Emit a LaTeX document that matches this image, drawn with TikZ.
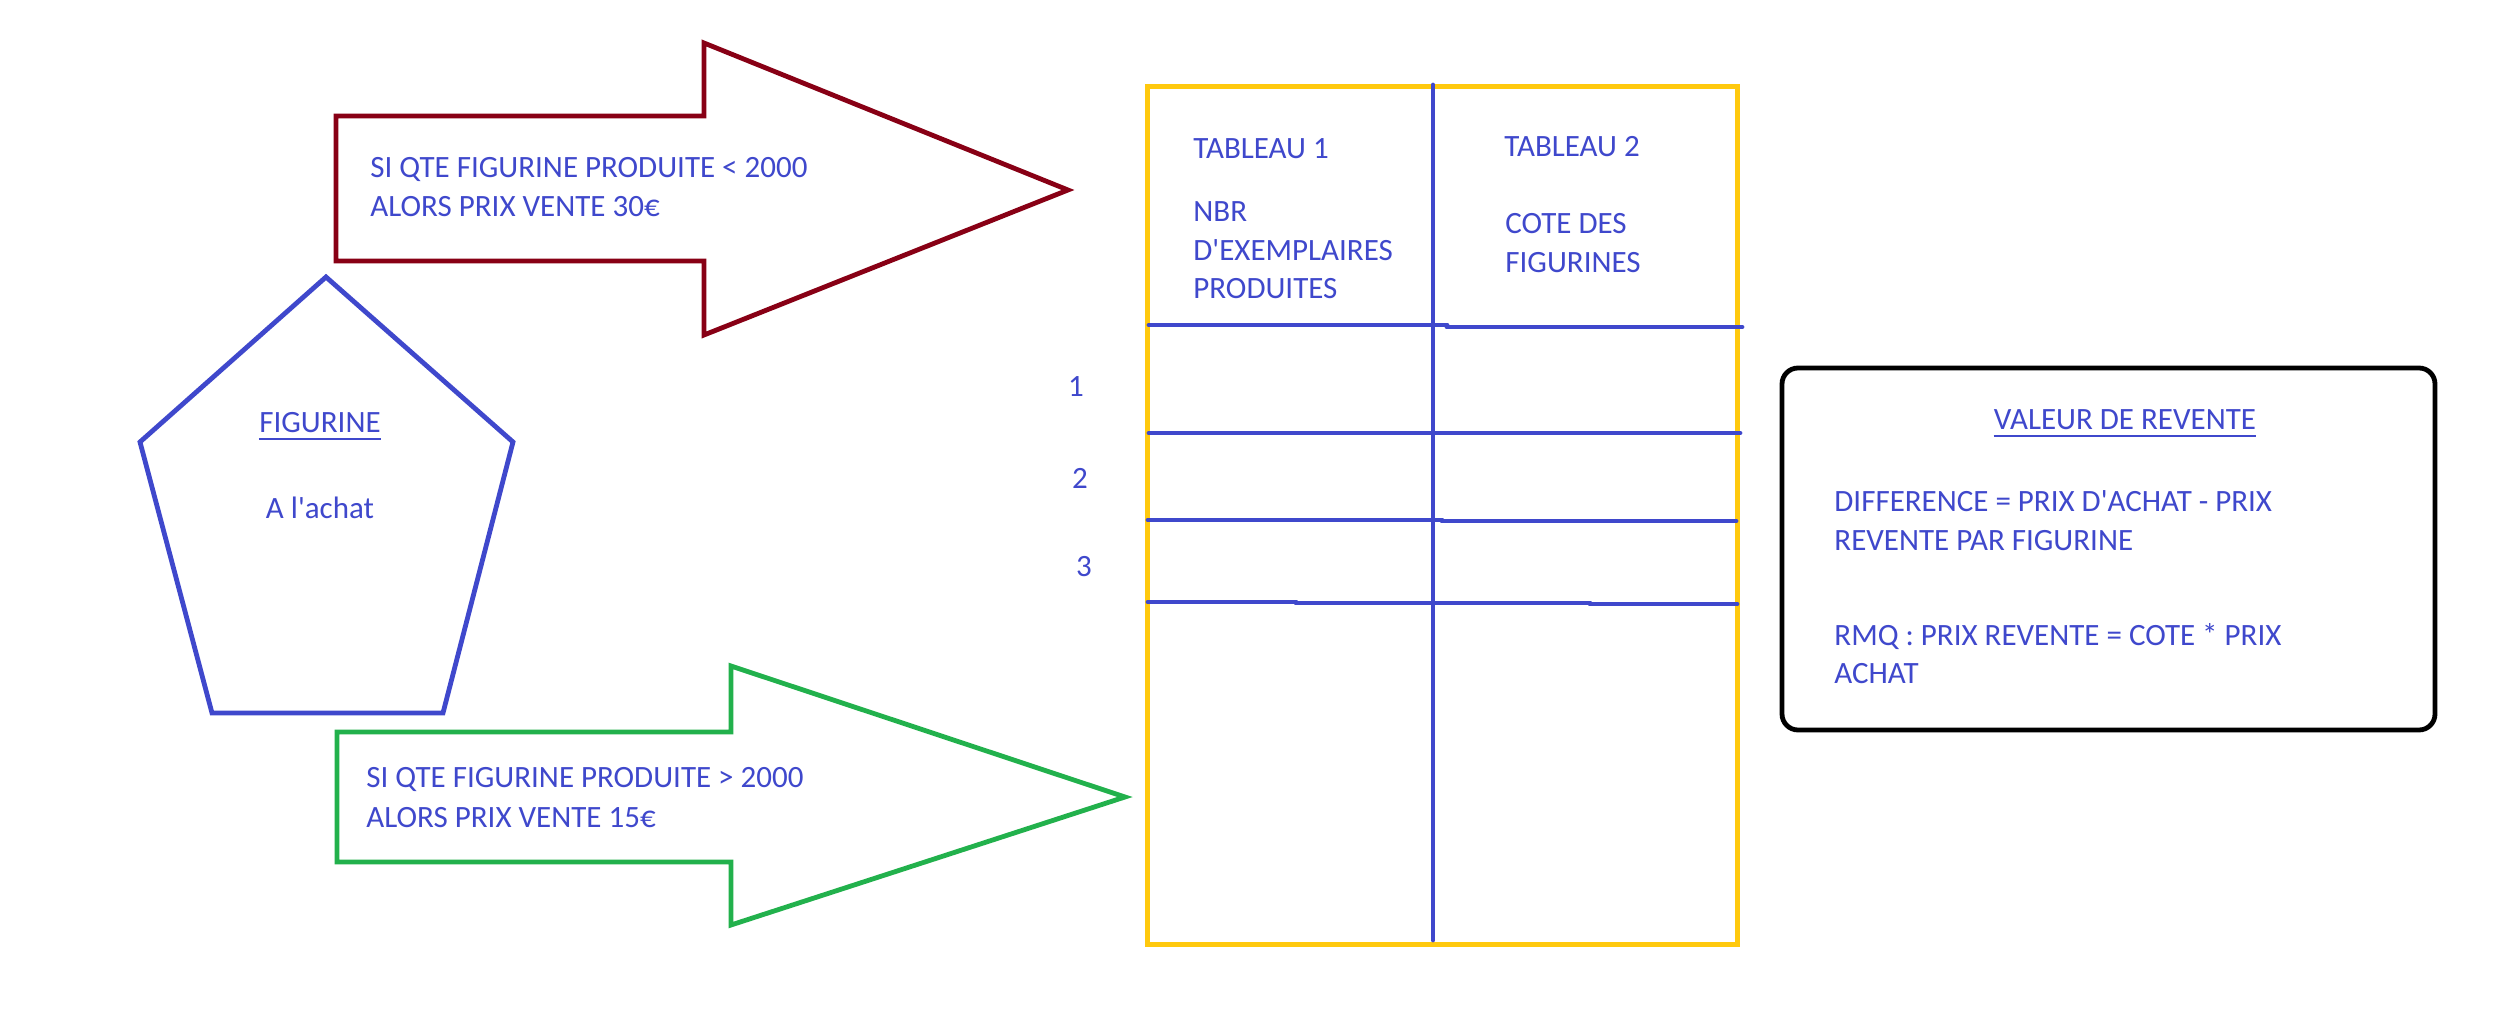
\documentclass[tikz,border=0pt]{standalone}
\usepackage{fontspec}
\setmainfont{Carlito}[Ligatures=TeXOff]
\definecolor{txtblue}{HTML}{3F48CC}
\definecolor{arrred}{HTML}{880015}
\definecolor{arrgreen}{HTML}{22B14C}
\definecolor{tabyellow}{HTML}{FFC90E}
\begin{document}
\begin{tikzpicture}[x=0.5pt,y=-0.5pt,
  lbl/.style={text=txtblue, font=\fontsize{15.5}{19.5}\selectfont, inner sep=0pt, anchor=base west},
  clbl/.style={lbl, anchor=base},
  blueline/.style={draw=txtblue, line width=2.4pt, line cap=round},
  redarrow/.style={draw=arrred, line width=2.4pt, line join=miter},
  greenarrow/.style={draw=arrgreen, line width=2.4pt, line join=miter},
  yellowbox/.style={draw=tabyellow, line width=2.5pt},
  notebox/.style={draw=black, line width=2.4pt, rounded corners=8pt},
  uline/.style={draw=txtblue, line width=0.9pt}]
\useasboundingbox (0,0) rectangle (2496,1021);
\fill[white] (0,0) rectangle (2496,1021);

% red arrow
\draw[redarrow] (336,116) -- (704,116) -- (704,43) -- (1068,190) -- (704,335) -- (704,261) -- (336,261) -- cycle;
\node[lbl] (r1) at (370,178) {SI QTE FIGURINE PRODUITE < 2000};
\node[lbl] (r2) at (370,217) {ALORS PRIX VENTE 30€};

% pentagon
\draw[blueline, line cap=butt, line join=miter] (326,277) -- (513,442) -- (443,713) -- (212,713) -- (140,442) -- cycle;
\node[clbl] (fig) at (320,433) {FIGURINE};
\draw[uline] ([yshift=-3pt]fig.base west) -- ([yshift=-3pt]fig.base east);
\node[clbl] (ach) at (320,518) {A l'achat};

% green arrow
\draw[greenarrow] (337,732) -- (731,732) -- (731,666) -- (1125,797) -- (731,925) -- (731,862) -- (337,862) -- cycle;
\node[lbl] (g1) at (366,787) {SI QTE FIGURINE PRODUITE > 2000};
\node[lbl] (g2) at (366,827) {ALORS PRIX VENTE 15€};

% table
\draw[yellowbox] (1147,87) rectangle (1737,944);
\draw[blueline] (1433,85) -- (1433,940);
\draw[blueline] (1149,325) -- (1447,325);
\draw[blueline] (1447,327) -- (1742,327);
\draw[blueline] (1149,433) -- (1740,433);
\draw[blueline] (1148,520) -- (1442,520);
\draw[blueline] (1442,521) -- (1736,521);
\draw[blueline] (1148,602) -- (1296,602);
\draw[blueline] (1296,603) -- (1590,603);
\draw[blueline] (1590,604) -- (1737,604);
\node[lbl] (t1) at (1193,159) {TABLEAU 1};
\node[lbl] (t1a) at (1193,222) {NBR};
\node[lbl] (t1b) at (1193,261) {D'EXEMPLAIRES};
\node[lbl] (t1c) at (1193,299) {PRODUITES};
\node[lbl] (t2) at (1504,157) {TABLEAU 2};
\node[lbl] (t2a) at (1505,234) {COTE DES};
\node[lbl] (t2b) at (1505,273) {FIGURINES};
\node[clbl] (n1) at (1076,397) {1};
\node[clbl] (n2) at (1080,489) {2};
\node[clbl] (n3) at (1084,576) {3};

% note box
\draw[notebox] (1782,368) rectangle (2435,730);
\node[clbl] (v) at (2125,430) {VALEUR DE REVENTE};
\draw[uline] ([yshift=-3pt]v.base west) -- ([yshift=-3pt]v.base east);
\node[lbl] (d1) at (1834,512) {DIFFERENCE = PRIX D'ACHAT - PRIX};
\node[lbl] (d2) at (1834,551) {REVENTE PAR FIGURINE};
\node[lbl] (m1) at (1834,645) {RMQ : PRIX REVENTE = COTE * PRIX};
\node[lbl] (m2) at (1834,683) {ACHAT};
\end{tikzpicture}
\end{document}
